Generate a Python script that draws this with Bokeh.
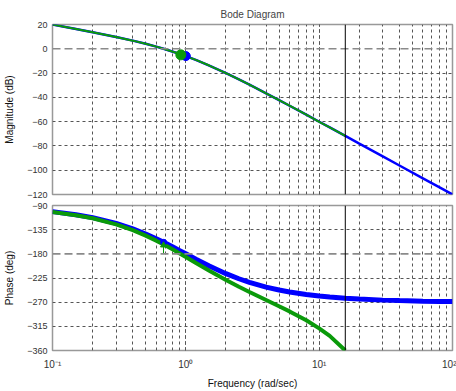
from bokeh.plotting import figure
from bokeh.models import Span, FixedTicker, LogTicker, Range1d, CustomJSTickFormatter
from bokeh.layouts import column
from bokeh.embed import file_html
from bokeh.resources import INLINE

# ---- data ----
freq = [0.1, 0.15, 0.2, 0.3, 0.4, 0.5, 0.6, 0.7, 0.8, 0.9, 1.0, 1.2, 1.5, 2.0, 2.5,
        3.0, 4.0, 5.0, 6.0, 8.0, 10.0, 12.0, 15.7, 20.0, 30.0, 40.0, 60.0, 80.0, 100.0]
mag_blue = [19.9, 16.3, 13.6, 9.7, 6.7, 4.1, 1.8, -0.4, -2.4, -4.2, -6.0, -9.3, -13.8,
            -20.0, -25.2, -29.5, -36.7, -42.3, -46.9, -54.3, -60.1, -64.8, -71.8, -78.1,
            -88.6, -96.1, -106.7, -114.2, -120.0]
phase_blue = [-101.4, -107.1, -112.6, -123.4, -133.6, -143.1, -151.9, -160.0, -167.3,
              -174.0, -180.0, -190.4, -202.6, -216.9, -226.4, -233.1, -241.9, -247.4,
              -251.1, -255.7, -258.6, -260.5, -262.7, -264.3, -266.2, -267.1, -268.1,
              -268.6, -268.9]

freq_green = [0.1, 0.15, 0.2, 0.3, 0.4, 0.5, 0.6, 0.7, 0.8, 0.9, 1.0, 1.2, 1.5, 2.0, 2.5,
              3.0, 4.0, 5.0, 6.0, 8.0, 10.0, 12.0, 15.7]
mag_green = [19.9, 16.3, 13.6, 9.7, 6.7, 4.1, 1.8, -0.4, -2.4, -4.2, -6.0, -9.3, -13.8,
             -20.0, -25.2, -29.5, -36.7, -42.3, -46.9, -54.3, -60.1, -64.8, -71.8]
phase_green = [-102.0, -108.0, -113.8, -125.2, -136.0, -146.1, -155.5, -164.2, -172.1,
               -179.4, -186.0, -197.6, -211.6, -228.9, -241.4, -251.1, -266.0, -277.5,
               -287.2, -303.8, -318.8, -332.7, -360.0]

# stability-margin markers
gm_freq_blue, gm_db_blue = [1.0], [-6.0]
gm_freq_green, gm_db_green = [0.917], [-5.0]
pm_freq_blue, pm_deg_blue = [0.682], [-158.6]
pm_freq_green, pm_deg_green = [0.68], [-164.0]
pm_ref_deg = -180
cross_freq = 15.7

mag_ticks = [20, 0, -20, -40, -60, -80, -100, -120]
phase_ticks = [-90, -135, -180, -225, -270, -315, -360]

BLUE = "#0000ff"
GREEN = "#0a9a0a"
GRID = "#555555"
FONT = "Liberation Sans"

def style(p, yticks, ref_line):
    p.outline_line_color = "#999999"
    p.outline_line_width = 1.5
    p.background_fill_color = "white"
    p.border_fill_color = "white"
    for ax in p.axis:
        ax.axis_line_color = None
        ax.major_tick_line_color = None
        ax.minor_tick_line_color = None
        ax.major_tick_out = 0
        ax.minor_tick_out = 0
        ax.major_label_text_font = FONT
        ax.major_label_text_font_size = "9px"
        ax.major_label_text_color = "#333333"
        ax.axis_label_text_font = FONT
        ax.axis_label_text_font_size = "10px"
        ax.axis_label_text_font_style = "normal"
        ax.axis_label_text_color = "#111111"
    p.xaxis.ticker = LogTicker(num_minor_ticks=10)
    p.yaxis.ticker = FixedTicker(ticks=yticks)
    p.yaxis.major_label_standoff = 5
    p.yaxis.axis_label_standoff = 9
    p.xgrid.grid_line_color = GRID
    p.xgrid.grid_line_dash = "3 3"
    p.xgrid.grid_line_width = 1
    p.xgrid.minor_grid_line_color = GRID
    p.xgrid.minor_grid_line_dash = "3 3"
    p.xgrid.minor_grid_line_width = 1
    p.ygrid.ticker = FixedTicker(ticks=[t for t in yticks if t != ref_line])
    p.ygrid.grid_line_color = GRID
    p.ygrid.grid_line_dash = "3 3"
    p.ygrid.grid_line_width = 1
    p.add_layout(Span(location=ref_line, dimension="width", line_color="#8a8a8a",
                      line_dash="8 4", line_width=1.6))
    p.add_layout(Span(location=cross_freq, dimension="height", line_color="black",
                      line_width=1))

p1 = figure(width=456, height=200, x_axis_type="log",
            x_range=Range1d(0.1, 100), y_range=Range1d(-120, 20),
            output_backend="svg", toolbar_location=None,
            min_border_left=52, min_border_right=4, min_border_top=24, min_border_bottom=6,
            title="Bode Diagram")
p1.title.text_font = FONT
p1.title.text_font_size = "10px"
p1.title.text_font_style = "normal"
p1.title.align = "center"
p1.title.standoff = 9
style(p1, mag_ticks, 0)
p1.xaxis.visible = False
p1.yaxis.axis_label = "Magnitude (dB)"
p1.line(freq, mag_blue, line_color=BLUE, line_width=2.5)
p1.line(freq_green, mag_green, line_color=GREEN, line_width=2)
p1.scatter(gm_freq_blue, gm_db_blue, size=9, fill_color=BLUE, line_color=BLUE)
p1.scatter(gm_freq_green, gm_db_green, size=10, fill_color=GREEN, line_color=GREEN)

p2 = figure(width=456, height=191, x_axis_type="log",
            x_range=p1.x_range, y_range=Range1d(-360, -90),
            output_backend="svg", toolbar_location=None,
            min_border_left=52, min_border_right=4, min_border_top=5, min_border_bottom=37)
style(p2, phase_ticks, -180)
p2.yaxis.axis_label = "Phase (deg)"
p2.xaxis.axis_label = "Frequency (rad/sec)"
p2.xaxis.major_label_standoff = 8
p2.xaxis.axis_label_standoff = 5
p2.xaxis.major_label_text_font_size = "10px"
p2.xaxis.formatter = CustomJSTickFormatter(code="""
    const e = Math.round(Math.log10(tick));
    const sup = {'-': '\u207b', '0': '\u2070', '1': '\u00b9', '2': '\u00b2', '3': '\u00b3'};
    return '10' + String(e).split('').map(c => sup[c]).join('');
""")
p2.line(freq, phase_blue, line_color=BLUE, line_width=5)
p2.line(freq_green, phase_green, line_color=GREEN, line_width=4)
p2.segment(x0=pm_freq_green, y0=[pm_ref_deg], x1=pm_freq_green, y1=pm_deg_green,
           line_color=GREEN, line_width=1)
p2.scatter(pm_freq_blue, pm_deg_blue, size=6, fill_color=BLUE, line_color=BLUE)
p2.scatter(pm_freq_green, pm_deg_green, size=6, marker="triangle",
           fill_color=GREEN, line_color=GREEN)

layout = column(p1, p2)
open("out.html", "w").write(file_html(layout, INLINE))
